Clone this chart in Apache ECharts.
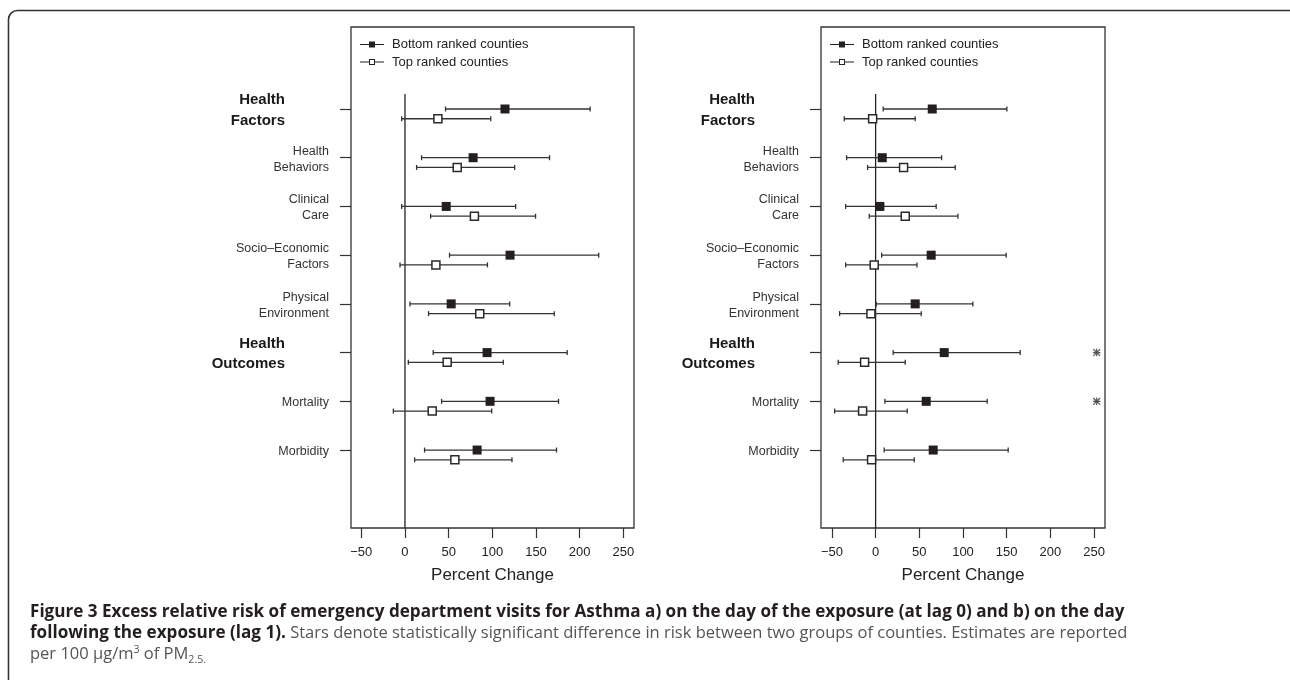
<!DOCTYPE html>
<html>
<head>
<meta charset="utf-8">
<script src="https://cdn.jsdelivr.net/npm/echarts@6/dist/echarts.min.js"></script>
<style>
html,body{margin:0;padding:0;background:#fff;}
#chart{width:1290px;height:680px;}
</style>
</head>
<body>
<div id="chart"></div>
<script>
// ---------------- DATA ----------------
const categories = ['Health\nFactors', 'Health\nBehaviors', 'Clinical\nCare', 'Socio\u2013Economic\nFactors',
  'Physical\nEnvironment', 'Health\nOutcomes', 'Mortality', 'Morbidity'];
const headerFlags = [1, 0, 0, 0, 0, 1, 0, 0];
const xTickValues = [-50, 0, 50, 100, 150, 200, 250];
const seriesNames = ['Bottom ranked counties', 'Top ranked counties'];

// Panel a) lag 0
const lag0BottomEst = [114.5, 78.0, 47.2, 120.3, 52.9, 94.0, 97.4, 82.6];
const lag0BottomLo  = [46.4, 19.0, -3.8, 51.0, 5.7, 32.3, 41.9, 22.4];
const lag0BottomHi  = [212.0, 165.5, 126.7, 221.8, 119.9, 185.7, 175.8, 173.5];
const lag0TopEst    = [37.7, 59.8, 79.5, 35.4, 85.6, 48.3, 31.2, 57.1];
const lag0TopLo     = [-3.8, 13.3, 29.3, -5.7, 27.0, 3.8, -13.3, 11.0];
const lag0TopHi     = [98.2, 125.6, 149.5, 94.4, 170.9, 112.6, 99.3, 122.5];
const lag0Signif    = [0, 0, 0, 0, 0, 0, 0, 0];

// Panel b) lag 1
const lag1BottomEst = [64.8, 7.6, 4.9, 63.6, 45.3, 78.5, 57.9, 65.9];
const lag1BottomLo  = [8.7, -33.2, -34.3, 6.9, 0.7, 20.1, 10.6, 9.8];
const lag1BottomHi  = [150.2, 75.5, 69.3, 149.4, 111.3, 165.4, 127.7, 151.7];
const lag1TopEst    = [-3.4, 32.0, 33.9, -1.6, -5.4, -12.6, -14.9, -4.6];
const lag1TopLo     = [-35.9, -9.2, -7.3, -34.3, -41.2, -42.8, -46.9, -37.1];
const lag1TopHi     = [45.3, 91.1, 94.2, 47.3, 52.2, 33.9, 36.2, 44.2];
const lag1Signif    = [0, 0, 0, 0, 0, 1, 1, 0];

const xAxisTitle = 'Percent Change';
const captionBold1 = 'Figure 3 Excess relative risk of emergency department visits for Asthma a) on the day of the exposure (at lag 0) and b) on the day';
const captionBold2 = 'following the exposure (lag 1).';
const captionText2 = ' Stars denote statistically significant difference in risk between two groups of counties. Estimates are reported';
const captionText3a = 'per 100 \u03bcg/m';
const captionSup = '3';
const captionText3b = ' of PM';
const captionSub = '2.5.';

// ---------------- STYLE ----------------
const FONT = '"Liberation Sans", Arial, Helvetica, sans-serif';
const CAP_FONT = '"Open Sans", "Noto Sans", sans-serif';
const TOP_OFFSET = 0.2;       // vertical offset of the second group within a row
const STAR_X = 253;           // where significance stars sit
const Y_MIN = -1.683, Y_MAX = 8.6;
const ZERO_TOP = -0.31;
const LINE_COLOR = '#333';
const CAPTION_LEFT = 30, CAPTION_WIDTH = 1092;

// fit caption font size to the measured line width
const mctx = document.createElement('canvas').getContext('2d');
mctx.font = 'bold 16px ' + CAP_FONT;
const CAP_SIZE = Math.round(16 * CAPTION_WIDTH / mctx.measureText(captionBold1).width * 10) / 10;
const CAP_SIZE_R = Math.round(CAP_SIZE * 0.967 * 10) / 10;

const ICON_FILLED = 'path://M0,2.5L24,2.5L24,3.5L0,3.5Z M9,0L15,0L15,6L9,6Z';
const ICON_OPEN = 'path://M0,2.5L9,2.5L9,3.5L0,3.5Z M15,2.5L24,2.5L24,3.5L15,3.5Z M9,0L15,0L15,6L9,6Z M10,1L10,5L14,5L14,1Z';
const ICON_STAR = 'path://M0,4.2L10,4.2L10,5.8L0,5.8Z M4.2,0L5.8,0L5.8,10L4.2,10Z M1.1,0L10,8.9L8.9,10L0,1.1Z M8.9,0L10,1.1L1.1,10L0,8.9Z';

function errRender(params, api) {
  const lo = api.value(0), hi = api.value(1), y = api.value(2);
  const a = api.coord([lo, y]), b = api.coord([hi, y]);
  const c = 2.5;
  const style = { stroke: LINE_COLOR, lineWidth: 1.3 };
  return {
    type: 'group',
    children: [
      { type: 'line', shape: { x1: a[0], y1: a[1], x2: b[0], y2: b[1] }, style: style },
      { type: 'line', shape: { x1: a[0], y1: a[1] - c, x2: a[0], y2: a[1] + c }, style: style },
      { type: 'line', shape: { x1: b[0], y1: b[1] - c, x2: b[0], y2: b[1] + c }, style: style }
    ]
  };
}

function labelFormatter(v) {
  const i = Math.round(v);
  const lines = categories[i].split('\n');
  const tag = headerFlags[i] ? 'h' : 'n';
  return lines.map(l => '{' + tag + '|' + l + '}').join('\n');
}

function makeXAxis(gi, min, max) {
  return {
    type: 'value', gridIndex: gi, min: min, max: max,
    axisLine: { show: false, onZero: false },
    splitLine: { show: false },
    axisTick: { show: true, customValues: xTickValues, length: 10, lineStyle: { color: LINE_COLOR, width: 1.2 } },
    axisLabel: {
      customValues: xTickValues, margin: 18, fontSize: 13, color: '#222', fontFamily: FONT,
      formatter: v => (v < 0 ? '\u2212' + Math.abs(v) : String(v))
    },
    name: xAxisTitle, nameLocation: 'middle', nameGap: 39,
    nameTextStyle: { fontSize: 17, color: '#222', fontFamily: FONT }
  };
}

function makeYAxis(gi) {
  const vals = categories.map((_, i) => i);
  return {
    type: 'value', gridIndex: gi, inverse: true, min: Y_MIN, max: Y_MAX,
    axisLine: { show: false, onZero: false },
    splitLine: { show: false },
    axisTick: { show: true, customValues: vals, length: 11, lineStyle: { color: LINE_COLOR, width: 1.2 } },
    axisLabel: {
      customValues: vals, margin: 22, formatter: labelFormatter, align: 'right', padding: [3, 0, 0, 0],
      rich: {
        h: { fontSize: 15, fontWeight: 'bold', color: '#1a1a1a', lineHeight: 20.5, fontFamily: FONT, padding: [0, 44, 0, 0], align: 'right' },
        n: { fontSize: 12.5, color: '#333', lineHeight: 16, fontFamily: FONT, align: 'right' }
      }
    }
  };
}

function panelSeries(gi, bEst, bLo, bHi, tEst, tLo, tHi, sig) {
  const out = [];
  out.push({
    type: 'line', xAxisIndex: gi, yAxisIndex: gi, silent: true, symbol: 'none',
    data: [[0, ZERO_TOP], [0, Y_MAX]],
    lineStyle: { color: '#222', width: 1.3 }, z: 1
  });
  out.push({
    type: 'custom', xAxisIndex: gi, yAxisIndex: gi, renderItem: errRender, silent: true,
    encode: { x: [0, 1], y: 2 }, z: 2,
    data: categories.map((_, i) => [bLo[i], bHi[i], i])
  });
  out.push({
    type: 'custom', xAxisIndex: gi, yAxisIndex: gi, renderItem: errRender, silent: true,
    encode: { x: [0, 1], y: 2 }, z: 2,
    data: categories.map((_, i) => [tLo[i], tHi[i], i + TOP_OFFSET])
  });
  out.push({
    name: seriesNames[0], type: 'scatter', xAxisIndex: gi, yAxisIndex: gi,
    symbol: 'rect', symbolSize: 9, z: 3,
    itemStyle: { color: '#231f20', opacity: 1 },
    data: bEst.map((v, i) => [v, i])
  });
  out.push({
    name: seriesNames[1], type: 'scatter', xAxisIndex: gi, yAxisIndex: gi,
    symbol: 'rect', symbolSize: 8, z: 3,
    itemStyle: { color: '#fff', borderColor: '#2a2a2a', borderWidth: 1.5, opacity: 1 },
    data: tEst.map((v, i) => [v, i + TOP_OFFSET])
  });
  const stars = [];
  sig.forEach((s, i) => { if (s) stars.push([STAR_X, i]); });
  out.push({
    type: 'scatter', xAxisIndex: gi, yAxisIndex: gi, symbol: ICON_STAR, symbolSize: 7.5, z: 3,
    itemStyle: { color: '#2a2a2a' }, silent: true, data: stars
  });
  return out;
}

function legendFor(name, icon, left, top) {
  return {
    left: left, top: top, orient: 'vertical', selectedMode: false,
    itemWidth: 24, itemHeight: 6,
    textStyle: { fontSize: 13, color: '#222', fontFamily: FONT, padding: [0, 0, 0, 3] },
    data: [{ name: name, icon: icon, itemStyle: { color: '#222', borderWidth: 0 } }]
  };
}

const chart = echarts.init(document.getElementById('chart'), null, { renderer: 'canvas' });
const option = {
  animation: false,
  backgroundColor: '#fff',
  textStyle: { fontFamily: FONT },
  grid: [
    { left: 351, top: 27, width: 283, height: 501, show: true, borderColor: LINE_COLOR, borderWidth: 1.3, backgroundColor: 'transparent' },
    { left: 821, top: 27, width: 284, height: 501, show: true, borderColor: LINE_COLOR, borderWidth: 1.3, backgroundColor: 'transparent' }
  ],
  xAxis: [makeXAxis(0, -61.8, 262.2), makeXAxis(1, -62.5, 262.5)],
  yAxis: [makeYAxis(0), makeYAxis(1)],
  legend: [
    legendFor(seriesNames[0], ICON_FILLED, 355, 33),
    legendFor(seriesNames[1], ICON_OPEN, 355, 50.5),
    legendFor(seriesNames[0], ICON_FILLED, 825, 33),
    legendFor(seriesNames[1], ICON_OPEN, 825, 50.5)
  ],
  series: [].concat(
    panelSeries(0, lag0BottomEst, lag0BottomLo, lag0BottomHi, lag0TopEst, lag0TopLo, lag0TopHi, lag0Signif),
    panelSeries(1, lag1BottomEst, lag1BottomLo, lag1BottomHi, lag1TopEst, lag1TopLo, lag1TopHi, lag1Signif)
  ),
  graphic: [
    {
      type: 'rect', silent: true, z: 0,
      shape: { x: 8.5, y: 10.5, width: 1300, height: 700, r: 9 },
      style: { fill: 'none', stroke: '#333', lineWidth: 1.6 }
    },
    {
      type: 'text', left: CAPTION_LEFT, top: 604, silent: true,
      style: {
        text: '{b|' + captionBold1 + '}\n{b|' + captionBold2 + '}{r|' + captionText2 + '}\n{r|' + captionText3a +
          '}{sup|' + captionSup + '}{r|' + captionText3b + '}{sub|' + captionSub + '}',
        rich: {
          b: { fontFamily: CAP_FONT, fontSize: CAP_SIZE, fontWeight: 'bold', fill: '#231f20', lineHeight: 21 },
          r: { fontFamily: CAP_FONT, fontSize: CAP_SIZE_R, fill: '#555', lineHeight: 21 },
          sup: { fontFamily: CAP_FONT, fontSize: CAP_SIZE * 0.62, fill: '#555', lineHeight: 10, verticalAlign: 'top', padding: [0, 0, 0, 0] },
          sub: { fontFamily: CAP_FONT, fontSize: CAP_SIZE * 0.62, fill: '#555', lineHeight: 12, verticalAlign: 'bottom' }
        }
      }
    }
  ]
};
chart.setOption(option);
</script>
</body>
</html>
